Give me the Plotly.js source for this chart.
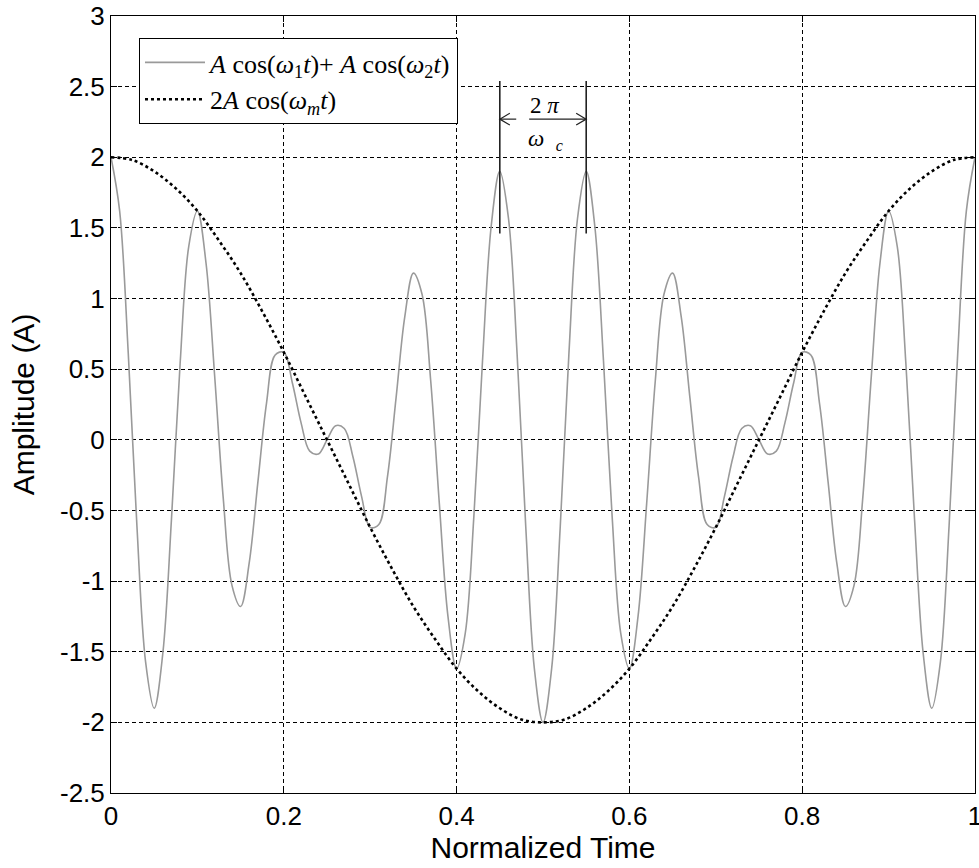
<!DOCTYPE html>
<html>
<head>
<meta charset="utf-8">
<script src="https://cdn.plot.ly/plotly-3.0.1.min.js"></script>
<style>html,body{margin:0;padding:0;background:#fff;}#chart{width:979px;height:868px;}</style>
</head>
<body>
<div id="chart"></div>
<script>
// Normalized time samples of the two-tone signal
const timeSignal = [0.00,0.01,0.02,0.03,0.04,0.05,0.06,0.07,0.08,0.09,
  0.10,0.11,0.12,0.13,0.14,0.15,0.16,0.17,0.18,0.19,
  0.20,0.21,0.22,0.23,0.24,0.25,0.26,0.27,0.28,0.29,
  0.30,0.31,0.32,0.33,0.34,0.35,0.36,0.37,0.38,0.39,
  0.40,0.41,0.42,0.43,0.44,0.45,0.46,0.47,0.48,0.49,
  0.50,0.51,0.52,0.53,0.54,0.55,0.56,0.57,0.58,0.59,
  0.60,0.61,0.62,0.63,0.64,0.65,0.66,0.67,0.68,0.69,
  0.70,0.71,0.72,0.73,0.74,0.75,0.76,0.77,0.78,0.79,
  0.80,0.81,0.82,0.83,0.84,0.85,0.86,0.87,0.88,0.89,
  0.90,0.91,0.92,0.93,0.94,0.95,0.96,0.97,0.98,0.99,1.00];
// A cos(w1 t) + A cos(w2 t)
const twoTone = [2.00,1.62,0.61,-0.61,-1.57,-1.90,-1.51,-0.56,0.54,1.37,
  1.62,1.25,0.45,-0.42,-1.03,-1.18,-0.87,-0.30,0.26,0.60,
  0.62,0.40,0.12,-0.08,-0.10,0.00,0.10,0.08,-0.12,-0.40,
  -0.62,-0.60,-0.26,0.30,0.87,1.18,1.03,0.42,-0.45,-1.25,
  -1.62,-1.37,-0.54,0.56,1.51,1.90,1.57,0.61,-0.61,-1.62,
  -2.00,-1.62,-0.61,0.61,1.57,1.90,1.51,0.56,-0.54,-1.37,
  -1.62,-1.25,-0.45,0.42,1.03,1.18,0.87,0.30,-0.26,-0.60,
  -0.62,-0.40,-0.12,0.08,0.10,0.00,-0.10,-0.08,0.12,0.40,
  0.62,0.60,0.26,-0.30,-0.87,-1.18,-1.03,-0.42,0.45,1.25,
  1.62,1.37,0.54,-0.56,-1.51,-1.90,-1.57,-0.61,0.61,1.62,2.00];
// Envelope 2A cos(wm t)
const timeEnvelope = [0.000,0.025,0.050,0.075,0.100,0.125,0.150,0.175,0.200,0.225,
  0.250,0.275,0.300,0.325,0.350,0.375,0.400,0.425,0.450,0.475,
  0.500,0.525,0.550,0.575,0.600,0.625,0.650,0.675,0.700,0.725,
  0.750,0.775,0.800,0.825,0.850,0.875,0.900,0.925,0.950,0.975,1.000];
const envelope = [2.00,1.98,1.90,1.78,1.62,1.41,1.18,0.91,0.62,0.31,
  0.00,-0.31,-0.62,-0.91,-1.18,-1.41,-1.62,-1.78,-1.90,-1.98,
  -2.00,-1.98,-1.90,-1.78,-1.62,-1.41,-1.18,-0.91,-0.62,-0.31,
  0.00,0.31,0.62,0.91,1.18,1.41,1.62,1.78,1.90,1.98,2.00];
const xTickVals = [0,0.2,0.4,0.6,0.8,1];
const xTickText = ["0","0.2","0.4","0.6","0.8","1"];
const yTickVals = [-2.5,-2,-1.5,-1,-0.5,0,0.5,1,1.5,2,2.5,3];
const yTickText = ["-2.5","-2","-1.5","-1","-0.5","0","0.5","1","1.5","2","2.5","3"];
const seriesNames = [
  "<i>A</i> cos(<i>ω</i><sub>1</sub><i>t</i>)+ <i>A</i> cos(<i>ω</i><sub>2</sub><i>t</i>)",
  "2<i>A</i> cos(<i>ω</i><sub><i>m</i></sub><i>t</i>)"
];
// marker for the carrier period (2π/ωc) between two adjacent peaks
const periodMarks = [0.45, 0.55];

const traces = [
  {x: timeSignal, y: twoTone, type: 'scatter', mode: 'lines', name: seriesNames[0],
   line: {color: '#9a9a9a', width: 1.6, shape: 'spline', smoothing: 1}},
  {x: timeEnvelope, y: envelope, type: 'scatter', mode: 'lines', name: seriesNames[1],
   line: {color: '#000', width: 2.6, dash: 'dot', shape: 'spline', smoothing: 1}}
];

const axFont = {family: 'Liberation Sans, Arial, sans-serif', size: 26, color: '#000'};
const arrowY = 2.27, dx = 0.0116, dy = 0.042;
const shapes = [
  {type: 'line', xref: 'x', yref: 'y', x0: periodMarks[0], x1: periodMarks[0], y0: 1.46, y1: 2.54, line: {color: '#222', width: 1.6}},
  {type: 'line', xref: 'x', yref: 'y', x0: periodMarks[1], x1: periodMarks[1], y0: 1.46, y1: 2.54, line: {color: '#222', width: 1.6}},
  {type: 'line', xref: 'x', yref: 'y', x0: periodMarks[0], x1: 0.469, y0: arrowY, y1: arrowY, line: {color: '#222', width: 1.2}},
  {type: 'line', xref: 'x', yref: 'y', x0: 0.484, x1: periodMarks[1], y0: arrowY, y1: arrowY, line: {color: '#222', width: 1.2}},
  {type: 'path', xref: 'x', yref: 'y',
   path: `M ${periodMarks[0]+dx} ${arrowY+dy} L ${periodMarks[0]} ${arrowY} L ${periodMarks[0]+dx} ${arrowY-dy}`,
   line: {color: '#222', width: 1.2}},
  {type: 'path', xref: 'x', yref: 'y',
   path: `M ${periodMarks[1]-dx} ${arrowY+dy} L ${periodMarks[1]} ${arrowY} L ${periodMarks[1]-dx} ${arrowY-dy}`,
   line: {color: '#222', width: 1.2}}
];

const layout = {
  width: 979, height: 868,
  margin: {l: 111, r: 4, t: 16, b: 75},
  paper_bgcolor: '#fff', plot_bgcolor: '#fff',
  showlegend: true,
  legend: {x: 0.0324, y: 0.9717, xanchor: 'left', yanchor: 'top',
    bgcolor: '#fff', bordercolor: '#000', borderwidth: 1,
    itemwidth: 60, tracegroupgap: 0,
    font: {family: 'Liberation Serif, Times New Roman, serif', size: 26, color: '#000'}},
  xaxis: {range: [0, 1], tickvals: xTickVals, ticktext: xTickText, ticklabeloverflow: 'allow',
    showgrid: true, gridcolor: '#000', gridwidth: 1, griddash: '4px,3px',
    zeroline: false, showline: true, linecolor: '#000', linewidth: 1, mirror: 'ticks',
    ticks: 'inside', ticklen: 6, tickcolor: '#000', tickfont: axFont,
    title: {text: 'Normalized Time', font: {family: 'Liberation Sans, Arial, sans-serif', size: 30, color: '#000'}, standoff: 6}},
  yaxis: {range: [-2.5, 3], tickvals: yTickVals, ticktext: yTickText,
    showgrid: true, gridcolor: '#000', gridwidth: 1, griddash: '4px,3px',
    zeroline: false, showline: true, linecolor: '#000', linewidth: 1, mirror: 'ticks',
    ticks: 'inside', ticklen: 6, tickcolor: '#000', tickfont: axFont,
    title: {text: 'Amplitude (A)', font: {family: 'Liberation Sans, Arial, sans-serif', size: 30, color: '#000'}, standoff: 16}},
  shapes: shapes,
  annotations: [
    {x: 0.502, y: 2.37, xref: 'x', yref: 'y', showarrow: false, text: '2 <i>π</i>',
     font: {family: 'Liberation Serif, Times New Roman, serif', size: 23, color: '#000'}},
    {x: 0.503, y: 2.12, xref: 'x', yref: 'y', showarrow: false, text: '<i>ω</i>  <sub><i>c</i></sub>',
     font: {family: 'Liberation Serif, Times New Roman, serif', size: 23, color: '#000'}}
  ]
};

Plotly.newPlot('chart', traces, layout, {displayModeBar: false, staticPlot: true});
</script>
</body>
</html>
